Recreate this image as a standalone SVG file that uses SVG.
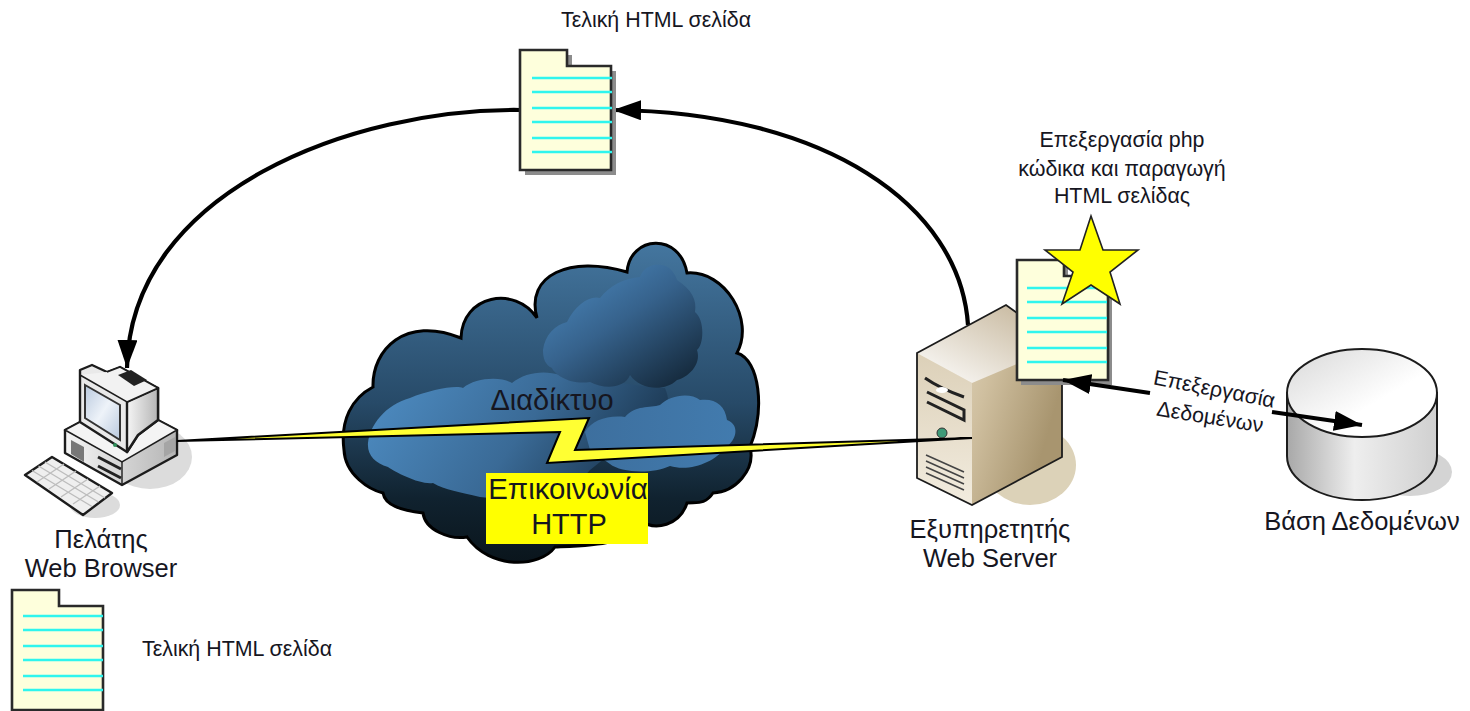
<svg xmlns="http://www.w3.org/2000/svg" width="1470" height="711" viewBox="0 0 1470 711">
<defs>
<linearGradient id="cloudBg" x1="0" y1="0" x2="0" y2="1"><stop offset="0" stop-color="#44769f"/><stop offset=".5" stop-color="#274a68"/><stop offset=".8" stop-color="#10222f"/><stop offset="1" stop-color="#0a151c"/></linearGradient>
<linearGradient id="cloudIn" x1="0" y1="0" x2=".85" y2="1"><stop offset="0" stop-color="#4f8fc6"/><stop offset=".5" stop-color="#36628c"/><stop offset="1" stop-color="#14283a"/></linearGradient>
<linearGradient id="cloudLow" x1="0" y1="0" x2="1" y2=".3"><stop offset="0" stop-color="#4f8fc6"/><stop offset=".6" stop-color="#3a6a96"/><stop offset="1" stop-color="#1d3a55"/></linearGradient>
<linearGradient id="cloudRight" x1="0" y1="0" x2="1" y2="0"><stop offset="0" stop-color="#3d6f9e"/><stop offset="1" stop-color="#427bae"/></linearGradient>
<linearGradient id="srvFront" x1="0" y1="0" x2="0" y2="1"><stop offset="0" stop-color="#dcd0b8"/><stop offset="1" stop-color="#f2ecdf"/></linearGradient>
<linearGradient id="srvSide" x1="0" y1="0" x2="1" y2=".4"><stop offset="0" stop-color="#efe6d3"/><stop offset=".55" stop-color="#cfbf9f"/><stop offset="1" stop-color="#a8956f"/></linearGradient>
<linearGradient id="srvTop" x1="0" y1="1" x2="1" y2="0"><stop offset="0" stop-color="#ffffff"/><stop offset="1" stop-color="#bfae90"/></linearGradient>
<linearGradient id="dbBody" x1="0" y1="0" x2="1" y2="0"><stop offset="0" stop-color="#a8a8a8"/><stop offset=".45" stop-color="#eeeeee"/><stop offset="1" stop-color="#d0d0d0"/></linearGradient>
<linearGradient id="dbTop" x1="0" y1="0" x2="1" y2="1"><stop offset="0" stop-color="#d8d8d8"/><stop offset=".6" stop-color="#ffffff"/></linearGradient>
<linearGradient id="pcSide" x1="0" y1="0" x2="1" y2="0"><stop offset="0" stop-color="#f5f5f5"/><stop offset="1" stop-color="#b5b5b5"/></linearGradient>
<linearGradient id="screen" x1="0" y1="0" x2="1" y2="1"><stop offset="0" stop-color="#b9c9de"/><stop offset=".5" stop-color="#eef3f9"/><stop offset="1" stop-color="#b9c9de"/></linearGradient>
<marker id="head" markerUnits="userSpaceOnUse" markerWidth="30" markerHeight="22" refX="28" refY="10" orient="auto"><path d="M0,0 L28,10 L0,20 Z" fill="#000"/></marker>
<g id="docLines"><path d="M0,0H80M0,14H80M0,30H80M0,44H80M0,60H80M0,74H80" stroke="#2ff5ee" stroke-width="2.4" fill="none"/></g>
<path id="docShape" d="M0,0H47V16H91V120H0Z"/>
</defs>
<style>
text{font-family:"Liberation Sans",Arial,sans-serif;fill:#16161f;text-anchor:middle}
.s{font-size:21.4px}.m{font-size:25.5px}
.paper{fill:#feffdc;stroke:#2a2a2a;stroke-width:2.6}
.shadow{fill:#8c8c8c}
.pc{stroke:#1c1c1c;stroke-width:2.4;stroke-linejoin:round}
.arrow{fill:none;stroke:#000;stroke-width:4.2}
</style>

<g id="connectors">
<path class="arrow" d="M520,110 C355,108 130,190 127,368" marker-end="url(#head)"/>
<path class="arrow" d="M968,325 C960,205 825,112 613,110" marker-end="url(#head)"/>
</g>

<g id="page-top">
<use href="#docShape" x="525" y="55" class="shadow"/>
<use href="#docShape" x="520" y="50" class="paper"/>
<use href="#docLines" x="532" y="78"/>
<text class="s" x="656" y="27">Τελική HTML σελίδα</text>
</g>

<g id="cloud">
<path d="M344,450 C340,420 352,398 373,387 C372,350 405,315 461,338 C462,295 515,285 537,318 C525,275 570,255 627,272 C630,235 680,232 687,273 C725,270 755,320 737,353 C760,360 765,410 750,447 C756,470 735,492 713,493 C705,505 697,502 687,503 C680,525 655,532 640,520 C625,545 600,545 555,547 C540,568 490,570 467,537 C450,540 425,530 423,513 C400,510 385,505 383,493 C370,490 345,475 344,450Z" fill="url(#cloudBg)" stroke="#000" stroke-width="3"/>
<path d="M368,443 C370,425 385,405 410,398 C430,390 455,385 463,388 C475,378 500,376 512,383 C525,372 545,370 560,375 C585,378 630,385 665,388 C670,400 668,405 665,410 L590,470 C565,500 520,502 480,497 C460,492 445,490 433,483 C420,485 395,472 388,467 C375,463 367,455 368,443Z" fill="url(#cloudLow)"/>
<path d="M543,350 C545,335 555,325 567,322 C575,305 590,295 600,298 C610,285 625,278 640,277 C645,262 670,258 677,280 C692,290 697,300 695,312 C705,320 704,345 697,350 C702,365 687,378 677,380 C665,392 640,390 630,375 C625,388 605,390 590,382 C570,385 555,375 552,368 C545,365 543,358 543,350Z" fill="url(#cloudIn)"/>
<path d="M585,432 C592,420 608,415 625,417 C635,405 650,408 660,405 C670,395 690,392 700,400 C715,398 725,405 727,420 C740,425 737,440 725,448 C715,462 690,472 670,466 C650,475 620,472 610,464 L590,450Z" fill="url(#cloudRight)"/>
<text x="552" y="410" font-size="29">Διαδίκτυο</text>
</g>

<g id="client">
<ellipse cx="150" cy="457" rx="42" ry="32" fill="#dcdcdc"/>
<ellipse cx="95" cy="505" rx="25" ry="13" fill="#dcdcdc"/>
<path class="pc" fill="url(#pcSide)" d="M65,430 L80,422 L158,420 L177,430 L177,455 L122,485 L65,453Z"/>
<path d="M65,430 L122,462 L177,430 L158,420 L80,422Z" fill="#f4f4f4" stroke="#1c1c1c" stroke-width="1.5"/>
<path d="M122,462 V485" stroke="#1c1c1c" stroke-width="1.4"/>
<path d="M71,440 L84,447 V462 L71,454Z" fill="#777"/>
<path d="M98,457 L121,469 M98,466 L121,478" stroke="#222" stroke-width="3"/>
<path d="M164,443 L175,437 V451 L164,457Z" fill="#a5a5a5"/>
<path class="pc" fill="#e9e9e9" d="M80,370 L92,365 L107,372 L120,367 L158,388 V420 L138,435 L127,452 L80,422Z"/>
<path class="pc" fill="url(#pcSide)" d="M127,402 L158,388 V420 L138,435 L127,452Z"/>
<path d="M107,372 L120,367 L158,388 L127,402 L80,375" fill="#f2f2f2" stroke="#1c1c1c" stroke-width="1.5"/>
<path d="M118,375 L131,370 L147,380 L134,386Z" fill="#222"/>
<path d="M85,385 L120,405 V440 L85,418Z" fill="url(#screen)" stroke="#333" stroke-width="2"/>
<circle cx="115" cy="445" r="2" fill="#2f8f5a"/>
<path class="pc" fill="#efefef" stroke-width="3" d="M25,475 L52,457 L112,493 L83,515Z"/>
<path d="M45,462 L105,498 M38.500,466 L98.500,502 M32,470.500 L92,506.500 M64,464 L37,482 M76,471 L49,489 M88,479 L61,497 M100,486 L73,504" stroke="#bdbdbd" stroke-width="1.4" fill="none"/>
<text class="m" x="101" y="548">Πελάτης</text>
<text class="m" x="101" y="577">Web Browser</text>
</g>

<g id="server">
<ellipse cx="1030" cy="465" rx="46" ry="40" fill="#dcd2b8"/>
<path d="M917,353 L1006,305 L1062,345 V457 L972,505 L917,478Z" fill="url(#srvSide)"/>
<path d="M917,353 L972,383 V505 L917,478Z" fill="url(#srvFront)"/>
<path d="M917,353 L1006,305 L1062,345 L972,383Z" fill="url(#srvTop)"/>
<path d="M917,353 L1006,305 L1062,345 V457 L972,505 L917,478Z" fill="none" stroke="#1c1c1c" stroke-width="1.8"/>
<path d="M925,378 C935,385 950,392 964,397 M927,392 L964,410 V420 L927,402" fill="none" stroke="#222" stroke-width="3"/>
<ellipse cx="942" cy="390" rx="6" ry="3" fill="#fff"/>
<circle cx="942" cy="433" r="5" fill="#3f9a78" stroke="#333"/>
<path d="M926,455 L964,472 M926,461 L964,478 M926,467 L964,484 M926,473 L964,490" stroke="#444" stroke-width="1.6"/>
<text class="m" x="990" y="538">Εξυπηρετητής</text>
<text class="m" x="990" y="567">Web Server</text>
</g>

<g id="lightning">
<path d="M177,441 L589,418 L575,450 L972,438 L547,463 L560,432Z" fill="#ffff33" stroke="#000" stroke-width="2"/>
</g>

<g id="http-label">
<rect x="486" y="473" width="162" height="71" fill="#ffff00"/>
<text x="568" y="499" font-size="29.4">Επικοινωνία</text>
<text x="569" y="534" font-size="29">HTTP</text>
</g>

<g id="page-server">
<use href="#docShape" x="1021" y="265" class="shadow"/>
<use href="#docShape" x="1017" y="260" class="paper"/>
<use href="#docLines" x="1027" y="288"/>
</g>

<g id="star">
<path d="M1091,216 L1103,250 L1138,250 L1110,272 L1120,304 L1091,285 L1062,304 L1073,272 L1045,250 L1080,250Z" fill="#ffff00" stroke="#222" stroke-width="1.6"/>
<text class="s" x="1122" y="147">Επεξεργασία php</text>
<text class="s" x="1122" y="176">κώδικα και παραγωγή</text>
<text class="s" x="1122" y="203">HTML σελίδας</text>
</g>

<g id="database">
<ellipse cx="1410" cy="472" rx="42" ry="24" fill="#d4d4d4"/>
<path d="M1287,393 V456 C1287,480 1320,500 1362,500 C1404,500 1437,480 1437,456 V393Z" fill="url(#dbBody)" stroke="#1c1c1c" stroke-width="2"/>
<ellipse cx="1362" cy="393" rx="75" ry="44" fill="url(#dbTop)" stroke="#1c1c1c" stroke-width="2"/>
<text class="m" x="1362" y="530">Βάση Δεδομένων</text>
</g>

<g id="data-arrows">
<path class="arrow" d="M1150,393 L1063,380" marker-end="url(#head)"/>
<path class="arrow" d="M1272,412 L1362,425" marker-end="url(#head)"/>
<text class="s" x="1213" y="396" transform="rotate(11 1213 396)">Επεξεργασία</text>
<text class="s" x="1209" y="424" transform="rotate(9 1209 424)">Δεδομένων</text>
</g>

<g id="page-bottom">
<use href="#docShape" x="12" y="590" class="paper"/>
<use href="#docLines" x="23" y="616"/>
<text class="s" x="237" y="656">Τελική HTML σελίδα</text>
</g>
</svg>
